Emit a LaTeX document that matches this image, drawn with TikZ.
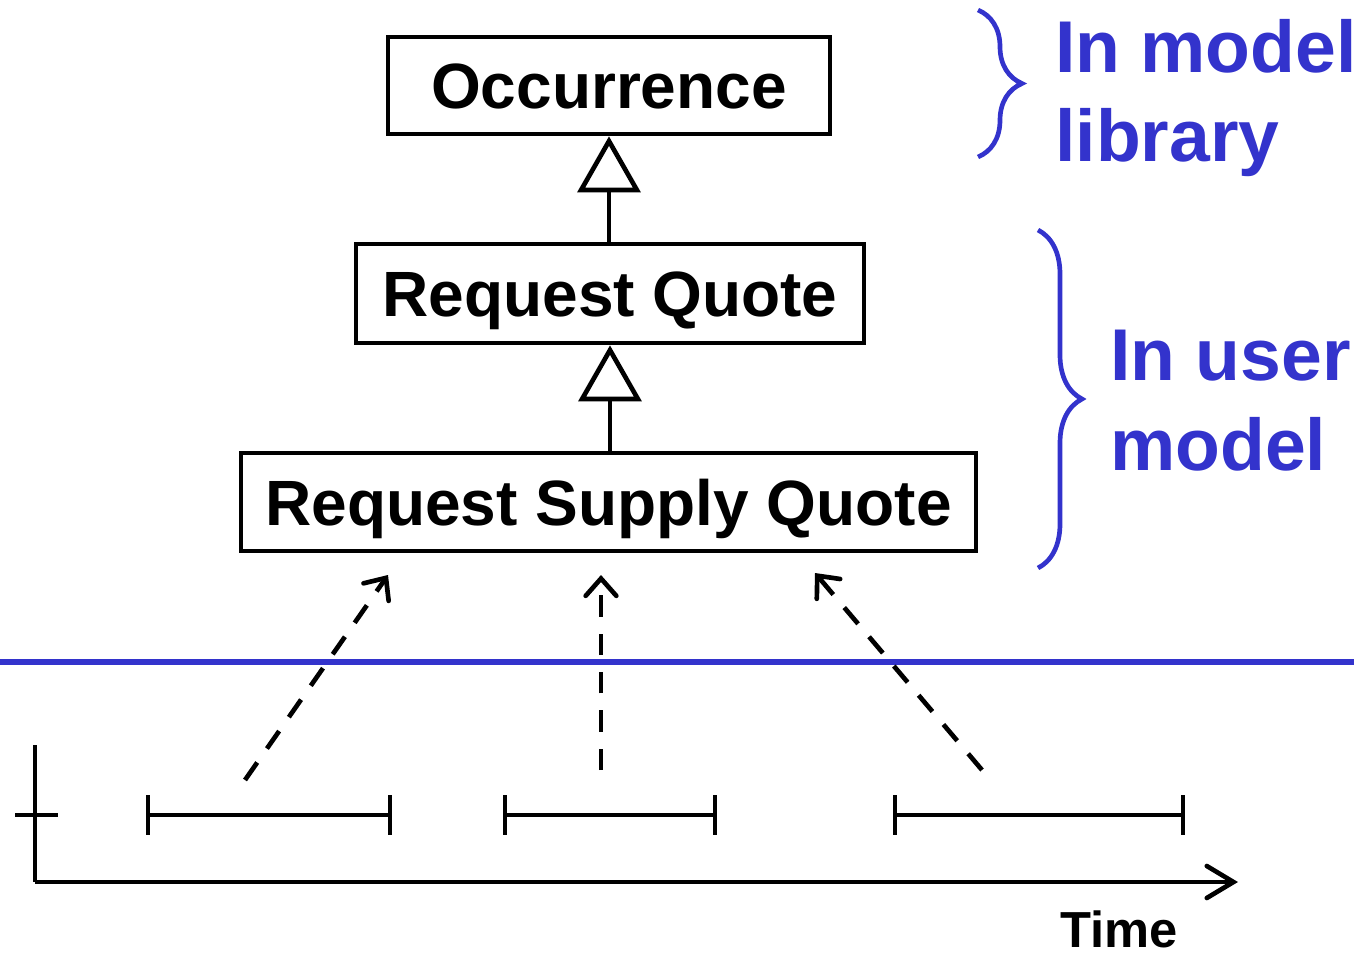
\documentclass[tikz,border=0pt]{standalone}
\usepackage{fontspec}
\setmainfont{Liberation Sans}
\usepackage{xcolor}
\usepackage{tikz}
\usetikzlibrary{positioning,calc,arrows.meta,decorations.pathreplacing}
\definecolor{ink}{HTML}{000000}
\definecolor{scope}{HTML}{3333CC}
\tikzset{
  cls/.style      = {draw=ink, line width=3.5pt, inner sep=0pt, text height=35pt, text depth=0pt,
                     font=\fontsize{48}{50}\selectfont\bfseries},
  gen/.style      = {-{Triangle[open, length=42pt, width=47pt]}, draw=ink, line width=3.5pt},
  inst/.style     = {-{Straight Barb[length=13pt, width=23pt, line cap=round]}, draw=ink, line width=3.5pt,
                     dash pattern=on 16pt off 12.75pt},
  axis/.style     = {draw=ink, line width=3.5pt},
  span/.style     = {draw=ink, line width=3.5pt},
  divider/.style  = {draw=scope, line width=4.5pt},
  scopebrace/.style = {draw=scope, line width=3.5pt, decorate, decoration={brace, amplitude=33pt}},
  scopelab/.style = {font=\fontsize{55}{57}\selectfont\bfseries\color{scope}, anchor=base west, inner sep=0pt},
  timelab/.style  = {font=\fontsize{38}{40}\selectfont\bfseries, anchor=base west, inner sep=0pt, text depth=0pt},
}

\begin{document}
\begin{tikzpicture}[x=0.75pt,y=-0.75pt]
\path[use as bounding box] (0,0) rectangle (1371,953);

% ---- class hierarchy ----------------------------------------------------
\node[cls, minimum width=331.5pt, minimum height=72.75pt] (occ) at (609,85.5) {Occurrence};
\node[cls, minimum width=381pt,   minimum height=74.25pt] (rq)  at (610,293.5) {Request Quote};
\node[cls, minimum width=551.25pt, minimum height=73.5pt] (rsq) at (608.5,502) {Request Supply Quote};

\draw[gen] (rq.north -| occ.south) -- (occ.south);
\draw[gen] (rsq.north -| rq.south) -- (rq.south);

% ---- where each lives ---------------------------------------------------
\draw[scopebrace] (978,10) -- (978,157);
\node[scopelab] (lib1) at (1055,72)  {In model};
\node[scopelab] (lib2) at (1055,161) {library};

\draw[scopebrace] (1038,230) -- (1038,568);
\node[scopelab] (usr1) at (1110,380) {In user};
\node[scopelab] (usr2) at (1110,470) {model};

\draw[divider] (0,662) -- (1354,662);

% ---- occurrences on the time line ---------------------------------------
\draw[axis] (35,745) -- (35,882);
\draw[axis, -{Straight Barb[length=20pt, width=24pt, line cap=round]}] (35,882) -- (1238,882);
\draw[axis] (15,815) -- (58,815);

\foreach \a/\b in {148/390, 505/715, 895/1183} {
  \draw[span] (\a,815) -- (\b,815);
  \draw[span] (\a,795) -- (\a,835);
  \draw[span] (\b,795) -- (\b,835);
}

\coordinate (s1) at (245,780);
\coordinate (s2) at (601,770);
\coordinate (s3) at (982,770);
\coordinate (t1) at (388,575);
\coordinate (t2) at (601,575);
\coordinate (t3) at (815,573);
\draw[inst] (s1) -- (t1);
\draw[inst] (s2) -- (t2);
\draw[inst] (s3) -- (t3);

\node[timelab] (time) at (1060,947) {Time};

\end{tikzpicture}
\end{document}
